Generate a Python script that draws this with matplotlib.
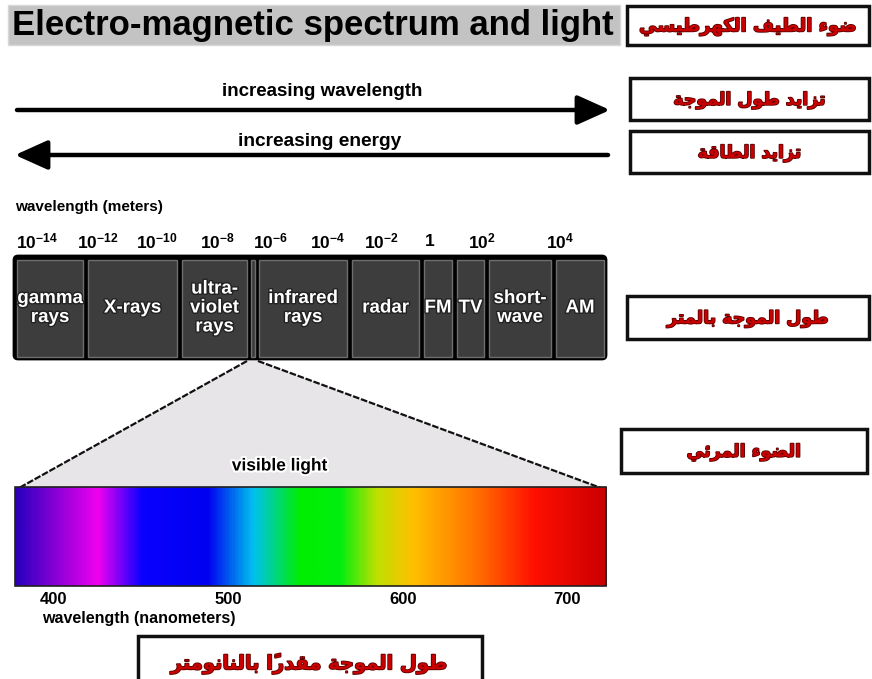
import numpy as np
import matplotlib
matplotlib.use("Agg")
import matplotlib.pyplot as plt
from matplotlib.patches import Rectangle, FancyBboxPatch, Polygon, FancyArrowPatch
from matplotlib.colors import LinearSegmentedColormap
import matplotlib.patheffects as pe

# ---------------- data ----------------
title = "Electro-magnetic spectrum and light"
ar_title = "ضوء الطيف الكهرطيسي"
arrow_labels = ["increasing wavelength", "increasing energy"]
ar_arrow_labels = ["تزايد طول الموجة", "تزايد الطاقة"]
ar_band_caption = "طول الموجة بالمتر"
ar_visible_caption = "الضوء المرئي"
ar_nm_caption = "طول الموجة مقدراً بالنانومتر"

meter_axis_label = "wavelength (meters)"
meter_exponents = ["-14", "-12", "-10", "-8", "-6", "-4", "-2", None, "2", "4"]

band_names = ["gamma\nrays", "X-rays", "ultra-\nviolet\nrays", "", "infrared\nrays",
              "radar", "FM", "TV", "short-\nwave", "AM"]

visible_label = "visible light"
nm_ticks = [400, 500, 600, 700]
nm_axis_label = "wavelength (nanometers)"
spectrum_nm = [378, 380, 425, 450, 488, 514, 541, 564, 585, 606, 645, 680, 720, 724]
spectrum_colors = ["#2a00b0", "#3000c0", "#f000f0", "#0a00ff", "#0000f0", "#00c0f0",
                   "#00ee00", "#00ee10", "#c0e000", "#ffc000", "#ff7000", "#ff1000",
                   "#d00000", "#c80000"]

# ---------------- layout (pixels) ----------------
band_edges = [(17, 83), (88, 177), (182, 247), (251, 255), (259, 347), (352, 419),
              (424, 452), (457, 484), (489, 551), (556, 604)]
exp_x = [16, 77, 136, 200, 253, 310, 364, 425, 468, 546]
nm_tick_px = [53, 228, 403, 567]

# ---------------- Arabic shaping ----------------
AR = {
    '\u0621': ('\uFE80', None, None, None),
    '\u0623': ('\uFE83', '\uFE84', None, None),
    '\u0626': ('\uFE89', '\uFE8A', '\uFE8B', '\uFE8C'),
    '\u0627': ('\uFE8D', '\uFE8E', None, None),
    '\u0628': ('\uFE8F', '\uFE90', '\uFE91', '\uFE92'),
    '\u0629': ('\uFE93', '\uFE94', None, None),
    '\u062A': ('\uFE95', '\uFE96', '\uFE97', '\uFE98'),
    '\u062C': ('\uFE9D', '\uFE9E', '\uFE9F', '\uFEA0'),
    '\u062F': ('\uFEA9', '\uFEAA', None, None),
    '\u0631': ('\uFEAD', '\uFEAE', None, None),
    '\u0632': ('\uFEAF', '\uFEB0', None, None),
    '\u0633': ('\uFEB1', '\uFEB2', '\uFEB3', '\uFEB4'),
    '\u0636': ('\uFEBD', '\uFEBE', '\uFEBF', '\uFEC0'),
    '\u0637': ('\uFEC1', '\uFEC2', '\uFEC3', '\uFEC4'),
    '\u0641': ('\uFED1', '\uFED2', '\uFED3', '\uFED4'),
    '\u0642': ('\uFED5', '\uFED6', '\uFED7', '\uFED8'),
    '\u0643': ('\uFED9', '\uFEDA', '\uFEDB', '\uFEDC'),
    '\u0644': ('\uFEDD', '\uFEDE', '\uFEDF', '\uFEE0'),
    '\u0645': ('\uFEE1', '\uFEE2', '\uFEE3', '\uFEE4'),
    '\u0646': ('\uFEE5', '\uFEE6', '\uFEE7', '\uFEE8'),
    '\u0647': ('\uFEE9', '\uFEEA', '\uFEEB', '\uFEEC'),
    '\u0648': ('\uFEED', '\uFEEE', None, None),
    '\u064A': ('\uFEF1', '\uFEF2', '\uFEF3', '\uFEF4'),
}
MARKS = {'\u064B', '\u064E', '\u0651'}


def shape_ar(s):
    chars = list(s)
    n = len(chars)
    forms = []
    for i, c in enumerate(chars):
        if c not in AR:
            forms.append(c)
            continue
        j = i - 1
        while j >= 0 and chars[j] in MARKS:
            j -= 1
        k = i + 1
        while k < n and chars[k] in MARKS:
            k += 1
        prv = chars[j] if j >= 0 else None
        nxt = chars[k] if k < n else None
        cp = prv in AR and AR[prv][2] is not None and AR[c][1] is not None
        cn = AR[c][2] is not None and nxt in AR and AR[nxt][1] is not None
        iso, fin, ini, med = AR[c]
        if cp and cn:
            forms.append(med)
        elif cp:
            forms.append(fin)
        elif cn:
            forms.append(ini)
        else:
            forms.append(iso)
    clusters = []
    for c in forms:
        if c in MARKS and clusters:
            clusters[-1] += c
        else:
            clusters.append(c)
    return "".join(reversed(clusters))


# ---------------- figure ----------------
plt.rcParams['mathtext.fontset'] = 'custom'
plt.rcParams['mathtext.bf'] = 'Liberation Sans:bold'
plt.rcParams['mathtext.rm'] = 'Liberation Sans:bold'
plt.rcParams['mathtext.default'] = 'bf'

fig = plt.figure(figsize=(8.72, 6.79), dpi=100)
ax = fig.add_axes([0, 0, 1, 1])
ax.set_xlim(0, 872)
ax.set_ylim(679, 0)
ax.axis('off')

SANS = ['Liberation Sans', 'DejaVu Sans']
ARF = ['DejaVu Sans']
AR_RED = '#c80000'
ar_fx = [pe.withStroke(linewidth=1.2, foreground='#5a0000')]

# title
ax.add_patch(Rectangle((8, 5), 612, 40, facecolor='#c3c3c3', edgecolor='#d8d8d8', lw=1))
ax.text(313, 26, title, fontsize=25, fontweight='bold', family=SANS,
        ha='center', va='center', color='black')


def ar_box(x0, y0, x1, y1, text, size=13):
    ax.add_patch(Rectangle((x0, y0), x1 - x0, y1 - y0, facecolor='white',
                           edgecolor='#101010', lw=2.5, zorder=3))
    ax.text((x0 + x1) / 2, (y0 + y1) / 2 + 1, shape_ar(text), fontsize=size,
            fontweight='bold', family=ARF, color=AR_RED, ha='center', va='center',
            zorder=4, path_effects=ar_fx)


ar_box(627, 6, 869, 45, ar_title, 13)
ar_box(630, 78, 869, 120, ar_arrow_labels[0], 12.5)
ar_box(630, 131, 869, 173, ar_arrow_labels[1], 12.5)
ar_box(627, 296, 869, 339, ar_band_caption, 12.5)
ar_box(621, 429, 867, 473, ar_visible_caption, 12.5)
ar_box(138, 636, 482, 690, ar_nm_caption, 14)

# arrows
a1 = FancyArrowPatch((17, 110), (610, 110), arrowstyle='-|>,head_length=1.0,head_width=0.45',
                     mutation_scale=20, lw=3.2, color='black', shrinkA=0, shrinkB=0)
a2 = FancyArrowPatch((608, 155), (15, 155), arrowstyle='-|>,head_length=1.0,head_width=0.45',
                     mutation_scale=20, lw=3.2, color='black', shrinkA=0, shrinkB=0)
ax.add_patch(a1)
ax.add_patch(a2)
ax.text(322, 91, arrow_labels[0], fontsize=13.5, fontweight='bold', family=SANS,
        ha='center', va='center')
ax.text(320, 141, arrow_labels[1], fontsize=13.8, fontweight='bold', family=SANS,
        ha='center', va='center')

# meter axis
ax.text(15, 207, meter_axis_label, fontsize=11, fontweight='bold', family=SANS,
        ha='left', va='center')
for x, e in zip(exp_x, meter_exponents):
    s = "1" if e is None else "10$^{%s}$" % e
    ax.text(x, 241, s, fontsize=12.5, fontweight='bold', family=SANS, ha='left',
            va='center')

# band frame + cells
ax.add_patch(FancyBboxPatch((14, 256), 592, 103, boxstyle='round,pad=0,rounding_size=4',
                            facecolor='black', edgecolor='black', lw=2))
for (x0, x1), name in zip(band_edges, band_names):
    ax.add_patch(Rectangle((x0, 260), x1 - x0, 97, facecolor='#3d3d3d',
                           edgecolor='#6e6e6e', lw=1))
    if name:
        ax.text((x0 + x1) / 2, 308, name, fontsize=13.5, fontweight='bold', family=SANS,
                color='white', ha='center', va='center', linespacing=1.15,
                path_effects=[pe.withStroke(linewidth=2, foreground='#222222')])

# triangle to visible light
ax.add_patch(Polygon([(247, 361), (258, 361), (601, 488), (19, 488)], closed=True,
                     facecolor='#e7e5e7', edgecolor='none'))
ax.plot([247, 19], [361, 488], color='#111111', lw=1.6, ls=(0, (3, 0.8)))
ax.plot([258, 601], [361, 488], color='#111111', lw=1.6, ls=(0, (3, 0.8)))
ax.text(280, 466, visible_label, fontsize=12.5, fontweight='bold', family=SANS,
        ha='center', va='center',
        path_effects=[pe.withStroke(linewidth=3, foreground='white')])

# spectrum gradient
lo = (nm_tick_px[1] - nm_tick_px[0]) / 100.0
hi = (nm_tick_px[3] - nm_tick_px[2]) / 100.0
x_stops = np.array([nm_tick_px[0] + (v - 400) * lo if v < 400 else
                    (nm_tick_px[3] + (v - 700) * hi if v > 700 else
                     np.interp(v, nm_ticks, nm_tick_px)) for v in spectrum_nm])
x0s, x1s = 15, 606
pos = (x_stops - x0s) / (x1s - x0s)
pos = np.clip(pos, 0, 1)
pos[0], pos[-1] = 0.0, 1.0
cmap = LinearSegmentedColormap.from_list('vis', list(zip(pos, spectrum_colors)))
grad = np.linspace(0, 1, 600)[None, :]
ax.imshow(grad, cmap=cmap, aspect='auto', extent=(x0s, x1s, 586, 487), zorder=2,
          interpolation='bilinear')
ax.add_patch(Rectangle((x0s, 487), x1s - x0s, 99, facecolor='none',
                       edgecolor='#202020', lw=1.2, zorder=3))

for v, x in zip(nm_ticks, nm_tick_px):
    ax.text(x, 599, str(v), fontsize=12, fontweight='bold', family=SANS,
            ha='center', va='center')
ax.text(42, 619, nm_axis_label, fontsize=11.5, fontweight='bold', family=SANS,
        ha='left', va='center')

fig.savefig('out.png', dpi=100)
